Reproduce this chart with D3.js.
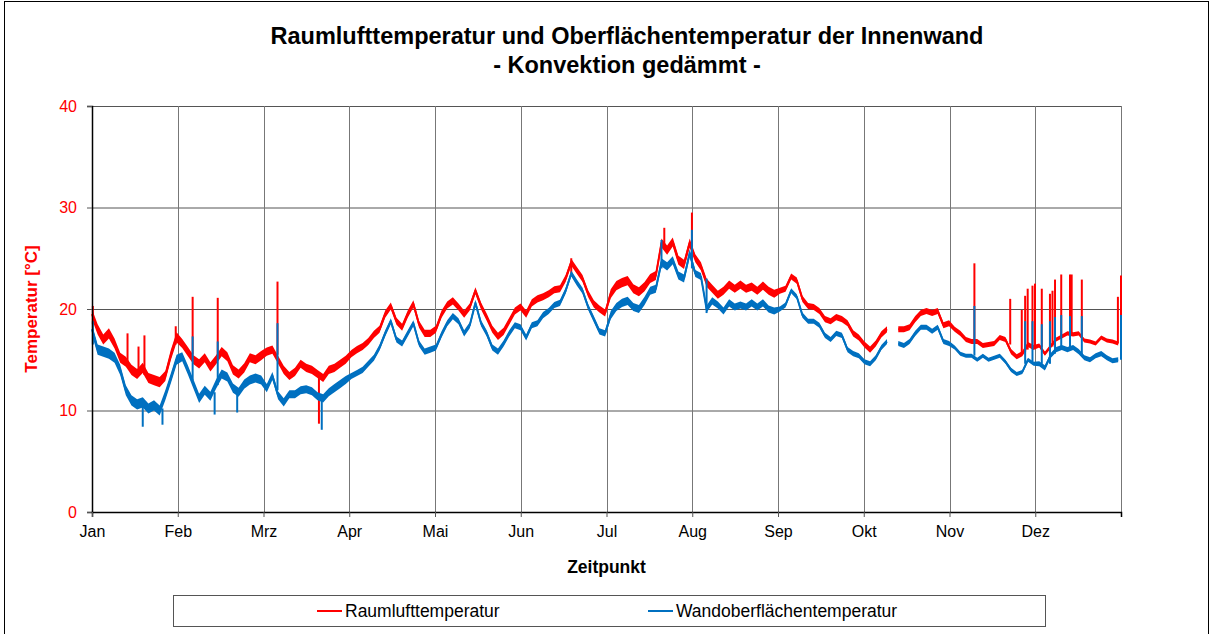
<!DOCTYPE html>
<meta charset="utf-8">
<body style="margin:0;background:#fff">
<script src="https://cdn.jsdelivr.net/npm/d3@7"></script>
<script>

var width = 1213,
    height = 634,
    plotL = 92, plotR = 1121, plotT = 106, plotB = 512;

var months = ["Jan", "Feb", "Mrz", "Apr", "Mai", "Jun", "Jul", "Aug", "Sep", "Okt", "Nov", "Dez"];
var yTicks = [0, 10, 20, 30, 40];
var step = 2; // days between samples

// Raumlufttemperatur, every 2 days (null = no data)
var air = [19.5, 18.0, 17.0, 17.6, 16.6, 15.2, 14.8, 14.0, 13.6, 14.2, 13.2, 13.0, 12.8, 13.4, 15.5, 17.2,
  16.6, 15.8, 15.0, 14.6, 15.2, 14.3, 15.0, 15.8, 15.3, 14.0, 13.6, 14.2, 15.2, 15.0, 15.4, 15.8,
  16.0, 15.0, 14.0, 13.4, 13.8, 14.6, 14.2, 14.0, 13.6, 13.2, 14.0, 14.2, 14.6, 15.0, 15.6, 16.0,
  16.3, 16.8, 17.5, 18.0, 19.5, 20.3, 18.8, 18.2, 19.5, 20.5, 18.5, 17.6, 17.6, 18.0, 19.5, 20.4,
  20.8, 20.2, 19.5, 20.2, 21.8, 20.3, 19.2, 18.0, 17.3, 17.8, 18.8, 19.8, 20.2, 19.5, 20.6, 21.0,
  21.2, 21.5, 21.9, 22.0, 23.0, 24.6, 23.8, 23.0, 21.5, 20.5, 20.0, 19.6, 21.5, 22.3, 22.6, 22.8,
  22.0, 21.7, 22.2, 23.0, 23.3, 26.5, 25.8, 26.6, 24.8, 24.4, 26.5, 25.0, 24.2, 22.6, 22.0, 21.4,
  21.8, 22.4, 22.0, 22.4, 22.0, 22.2, 21.8, 22.3, 21.8, 21.5, 21.8, 22.0, 23.2, 22.8, 21.0, 20.3,
  20.2, 19.8, 19.0, 18.8, 19.2, 19.0, 18.6, 17.6, 17.2, 16.5, 16.0, 16.6, 17.5, 18.0, null, 18.0,
  18.0, 18.2, 19.0, 19.6, 19.8, 19.6, 19.8, 18.4, 18.6, 18.0, 17.6, 17.0, 16.8, 16.8, 16.4, 16.5,
  16.6, 17.2, 17.0, 15.8, 15.3, 15.6, 16.5, 16.2, 16.4, 15.6, 16.3, 17.0, 17.3, 17.6, 17.5, 17.6,
  16.9, 16.8, 16.6, 17.2, 16.9, 16.8, 16.6];

// Wandoberflächentemperatur, every 2 days
var wall = [18.0, 16.0, 15.8, 15.6, 15.2, 14.0, 12.0, 11.0, 10.6, 10.8, 10.2, 10.5, 10.0, 11.5, 13.2, 15.0,
  15.3, 14.0, 12.6, 11.2, 12.0, 11.4, 12.6, 13.6, 13.3, 12.2, 11.8, 12.6, 13.0, 13.2, 13.0, 12.2,
  13.4, 11.5, 10.8, 11.6, 11.6, 12.0, 12.1, 11.9, 11.4, 11.2, 11.8, 12.2, 12.6, 13.0, 13.4, 13.7,
  14.0, 14.6, 15.2, 16.2, 17.6, 18.8, 17.0, 16.6, 17.6, 18.6, 16.6, 15.8, 16.0, 16.2, 17.5, 18.6,
  19.3, 18.8, 17.6, 18.4, 20.6, 18.6, 17.6, 16.2, 15.8, 16.6, 17.6, 18.4, 18.2, 17.2, 18.4, 18.6,
  19.4, 19.8, 20.4, 20.6, 21.8, 23.5, 22.6, 21.8, 20.2, 19.0, 17.8, 17.6, 19.4, 20.2, 20.6, 20.8,
  20.2, 20.0, 20.8, 21.8, 22.0, 24.6, 24.2, 24.8, 23.3, 23.0, 25.5, 23.5, 23.2, 20.0, 20.8, 20.4,
  19.8, 20.6, 20.2, 20.4, 20.2, 20.6, 20.2, 20.6, 20.0, 19.8, 20.0, 20.4, 21.8, 21.2, 19.4, 18.8,
  18.8, 18.4, 17.4, 17.0, 17.6, 17.4, 16.0, 15.6, 15.4, 14.8, 14.6, 15.2, 16.2, 16.8, null, 16.6,
  16.4, 16.8, 17.6, 18.2, 18.2, 17.8, 18.2, 16.8, 16.6, 16.2, 15.6, 15.4, 15.4, 15.0, 15.4, 15.0,
  15.2, 15.4, 14.8, 14.0, 13.6, 13.8, 15.0, 14.6, 14.6, 14.2, 15.4, 16.0, 16.2, 16.0, 16.2, 15.8,
  15.2, 15.0, 15.4, 15.6, 15.2, 14.9, 15.0];

// half-width of the daily fluctuation band per month, °C
var airSpread = [0.5, 0.45, 0.4, 0.35, 0.35, 0.35, 0.45, 0.4, 0.3, 0.3, 0.25, 0.2];
var wallSpread = [0.5, 0.45, 0.4, 0.3, 0.3, 0.3, 0.4, 0.35, 0.25, 0.25, 0.2, 0.25];

// short peaks / drops: [day, from, to]
var airSpikes = [[0.3, 18.5, 20.3], [12.6, 14.5, 17.6], [16.5, 13.5, 16.3], [18.6, 13.5, 17.4], [29.7, 16.5, 18.3],
  [35.7, 15.5, 21.2], [44.6, 15.0, 21.1], [65.8, 15.5, 22.7], [80.5, 13.5, 8.7], [170, 23.5, 25.0],
  [203, 26.0, 28.0], [212.8, 25.0, 29.5], [313, 16.8, 24.5], [325.7, 16.5, 21.0], [329.8, 15.5, 19.9],
  [331, 15.8, 21.3], [331.9, 16.0, 22.0], [333.6, 16.2, 22.3], [334.5, 16.2, 22.5], [336.9, 16.2, 22.0],
  [339.8, 16.0, 21.5], [340.7, 16.3, 21.8], [341.6, 16.6, 22.9], [343.8, 17.2, 23.4], [346.9, 17.5, 23.4],
  [347.5, 17.5, 23.4], [351.1, 17.2, 22.9], [363.9, 16.6, 21.2], [365, 16.6, 23.3]];
var wallSpikes = [[0.3, 16.5, 18.8], [18, 10.6, 8.4], [25, 10.2, 8.6], [35.7, 13.0, 17.3], [43.5, 11.8, 9.6],
  [44.6, 12.5, 16.8], [51.5, 12.0, 9.8], [65.8, 12.0, 18.6], [81.5, 11.4, 8.1], [202, 24.0, 26.8],
  [212.8, 24.0, 27.8], [218, 23.0, 19.6], [313, 15.4, 20.3], [331, 14.6, 18.8], [333.6, 14.6, 18.8],
  [336.9, 14.6, 18.5], [339.8, 14.6, 18.8], [341.6, 15.6, 19.2], [343.8, 16.0, 19.4], [346.9, 16.0, 19.3],
  [351.1, 15.4, 19.3], [365, 15.0, 19.4]];

var series = [
  {name: "Raumlufttemperatur", color: "#ff0000", values: air, spread: airSpread, spikes: airSpikes},
  {name: "Wandoberflächentemperatur", color: "#0070c0", values: wall, spread: wallSpread, spikes: wallSpikes}
];

var x = d3.scaleLinear().domain([0, 365]).range([plotL, plotR]);
var y = d3.scaleLinear().domain([0, 40]).range([plotB, plotT]);
var monthPos = months.map((m, i) => i * 365 / 12);
var monthOf = day => Math.min(11, Math.floor(day / (365 / 12)));

var svg = d3.select("body").append("svg")
    .attr("width", width)
    .attr("height", height)
    .style("font-family", "Liberation Sans, Arial, sans-serif");

svg.append("rect")
    .attr("x", 4.5).attr("y", 1.5)
    .attr("width", 1204).attr("height", 660)
    .attr("fill", "none").attr("stroke", "#000");

// title
var title = svg.append("text")
    .attr("text-anchor", "middle")
    .attr("font-size", 23.5).attr("font-weight", "bold");
title.append("tspan").attr("x", 627).attr("y", 44).text("Raumlufttemperatur und Oberflächentemperatur der Innenwand");
title.append("tspan").attr("x", 627).attr("y", 73).text("- Konvektion gedämmt -");

// grid
svg.append("g").selectAll("line")
    .data(yTicks.slice(1))
    .enter().append("line")
    .attr("x1", plotL).attr("x2", plotR)
    .attr("y1", d => y(d) + 0.5).attr("y2", d => y(d) + 0.5)
    .attr("stroke", "#555");

svg.append("g").selectAll("line")
    .data(monthPos.slice(1).concat([365]))
    .enter().append("line")
    .attr("x1", d => Math.round(x(d)) + 0.5).attr("x2", d => Math.round(x(d)) + 0.5)
    .attr("y1", plotT).attr("y2", plotB)
    .attr("stroke", "#777");

// lines
var line = d3.line()
    .defined(d => d != null)
    .x((d, i) => x(i * step))
    .y(d => y(d));

series.forEach(function(s) {
  var band = d3.area()
      .defined(d => d != null)
      .x((d, i) => x(i * step))
      .y0((d, i) => y(d - s.spread[monthOf(i * step)]))
      .y1((d, i) => y(d + s.spread[monthOf(i * step)]));
  svg.append("path")
      .attr("d", band(s.values))
      .attr("fill", s.color);
  svg.append("path")
      .attr("d", line(s.values))
      .attr("fill", "none")
      .attr("stroke", s.color)
      .attr("stroke-width", 2)
      .attr("stroke-linejoin", "round");
  svg.append("g").selectAll("line")
      .data(s.spikes)
      .enter().append("line")
      .attr("x1", d => x(d[0])).attr("x2", d => x(d[0]))
      .attr("y1", d => y(d[1])).attr("y2", d => y(d[2]))
      .attr("stroke", s.color)
      .attr("stroke-width", 2);
});

// axes
var yAxis = svg.append("g")
    .attr("transform", "translate(" + plotL + ",0)")
    .call(d3.axisLeft(y).tickValues(yTicks).tickSize(5).tickPadding(10));
yAxis.selectAll("text").attr("fill", "#ff0000").attr("font-size", 16).attr("font-family", "Liberation Sans, Arial, sans-serif");
yAxis.selectAll("line").attr("stroke", "#555");
yAxis.select(".domain").attr("stroke", "#000").attr("stroke-width", 1.5);

var xAxis = svg.append("g")
    .attr("transform", "translate(0," + plotB + ")")
    .call(d3.axisBottom(x).tickValues(monthPos).tickFormat((d, i) => months[i]).tickSize(5).tickPadding(9));
xAxis.selectAll("text").attr("fill", "#000").attr("font-size", 16).attr("font-family", "Liberation Sans, Arial, sans-serif");
xAxis.selectAll("line").attr("stroke", "#555");
xAxis.select(".domain").attr("stroke", "#000").attr("stroke-width", 1.5);

// axis titles
svg.append("text")
    .attr("transform", "translate(37," + (plotT + plotB) / 2 + ") rotate(-90)")
    .attr("text-anchor", "middle")
    .attr("font-size", 17).attr("font-weight", "bold")
    .attr("fill", "#ff0000")
    .text("Temperatur [°C]");

svg.append("text")
    .attr("x", (plotL + plotR) / 2).attr("y", 573)
    .attr("text-anchor", "middle")
    .attr("font-size", 17.5).attr("font-weight", "bold")
    .text("Zeitpunkt");

// legend
svg.append("rect")
    .attr("x", 173.5).attr("y", 595.5)
    .attr("width", 872).attr("height", 31)
    .attr("fill", "none").attr("stroke", "#555");

var legendX = [317, 648];
var lg = svg.append("g").selectAll("g")
    .data(series)
    .enter().append("g")
    .attr("transform", (d, i) => "translate(" + legendX[i] + ",611)");
lg.append("line")
    .attr("x1", 0).attr("x2", 25)
    .attr("stroke", d => d.color).attr("stroke-width", 2);
lg.append("text")
    .attr("x", 28).attr("y", 6)
    .attr("font-size", 17.5)
    .text(d => d.name);

</script>
